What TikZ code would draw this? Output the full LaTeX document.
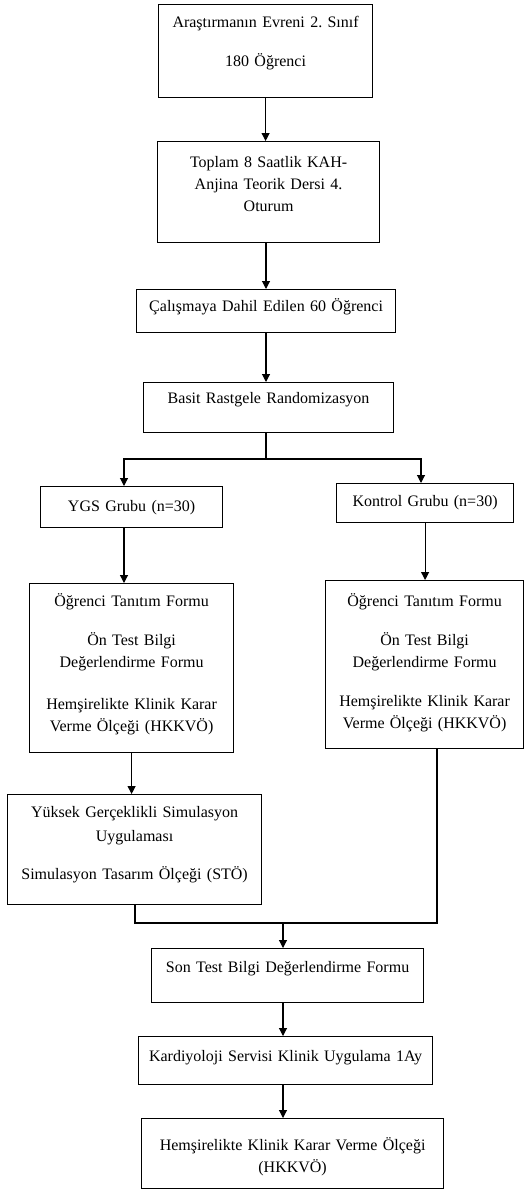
\documentclass[tikz,border=0pt]{standalone}
\usepackage{fontspec}
\setmainfont{Liberation Serif}
\usetikzlibrary{arrows.meta}
\frenchspacing

\begin{document}
\begin{tikzpicture}[x=1pt,y=-1pt,>={Triangle[length=8pt,width=8pt]},
    box/.style={draw,line width=1.2pt,anchor=north west,inner sep=0pt,align=center,
      font=\fontsize{16}{22}\selectfont},
    link/.style={line width=1.1pt}]
  \useasboundingbox (0,0) rectangle (526,1191);
  % boxes: placed by their top left corner; text height = first baseline,
  % text depth = rest of the box height
  \node[box,text width=214pt,text height=23pt,text depth=70pt] (evren) at (158,4)
    {Araştırmanın Evreni 2. Sınıf\\[17pt]180 Öğrenci};
  \node[box,text width=222pt,text height=26pt,text depth=75pt] (toplam) at (157,141)
    {Toplam 8 Saatlik KAH-\\Anjina Teorik Dersi 4.\\Oturum};
  \node[box,text width=259pt,text height=22pt,text depth=21pt] (dahil) at (136,289)
    {Çalışmaya Dahil Edilen 60 Öğrenci};
  \node[box,text width=250pt,text height=21pt,text depth=29pt] (random) at (143,382)
    {Basit Rastgele Randomizasyon};

  % two groups
  \node[box,text width=182pt,text height=25pt,text depth=16pt] (ygs) at (40,486)
    {YGS Grubu (n=30)};
  \node[box,text width=177pt,text height=23pt,text depth=16pt] (kontrol) at (336,483)
    {Kontrol Grubu (n=30)};
  \node[box,text width=204pt,text height=23pt,text depth=146pt] (formA) at (29,583)
    {Öğrenci Tanıtım Formu\\[17pt]Ön Test Bilgi\\Değerlendirme Formu\\[20pt]%
     Hemşirelikte Klinik Karar\\Verme Ölçeği (HKKVÖ)};
  \node[box,text width=198pt,text height=26pt,text depth=142pt] (formB) at (325,580)
    {Öğrenci Tanıtım Formu\\[17pt]Ön Test Bilgi\\Değerlendirme Formu\\[17pt]%
     Hemşirelikte Klinik Karar\\Verme Ölçeği (HKKVÖ)};
  \node[box,text width=254pt,text height=23pt,text depth=87pt] (sim) at (7,794)
    {Yüksek Gerçeklikli Simulasyon\\[2pt]Uygulaması\\[16pt]Simulasyon Tasarım Ölçeği (STÖ)};

  % after the groups meet
  \node[box,text width=272pt,text height=24pt,text depth=30pt] (son) at (151,948)
    {Son Test Bilgi Değerlendirme Formu};
  \node[box,text width=294pt,text height=25pt,text depth=23pt] (kardiyo) at (138,1036)
    {Kardiyoloji Servisi Klinik Uygulama 1Ay};
  \node[box,text width=302pt,text height=32pt,text depth=38pt] (hkkvo) at (141,1118)
    {Hemşirelikte Klinik Karar Verme Ölçeği\\(HKKVÖ)};

  \coordinate (split)  at (266,459);
  \coordinate (splitL) at (124,459);
  \coordinate (splitR) at (421,459);
  \coordinate (merge)  at (283,923);
  \coordinate (mergeL) at (135,923);
  \coordinate (mergeR) at (437,923);

  \draw[link,->] (evren) -- (evren |- toplam.north);
  \draw[link,->] (toplam.south -| split) -- (split |- dahil.north);
  \draw[link,->] (dahil.south -| split) -- (split |- random.north);
  \draw[link] (random.south -| split) -- (split);
  \draw[link,<->] (splitL |- ygs.north) -- (splitL) -- (splitR) -- (splitR |- kontrol.north);
  \draw[link,->] (ygs.south -| splitL) -- (splitL |- formA.north);
  \draw[link,->] (kontrol) -- (kontrol |- formB.north);
  \draw[link,->] (formA) -- (formA |- sim.north);

  % join of both arms
  \draw[link] (sim.south -| mergeL) -- (mergeL) -- (mergeR) -- (formB.south -| mergeR);
  \draw[link,->] (merge) -- (merge |- son.north);
  \draw[link,->] (son.south -| merge) -- (merge |- kardiyo.north);
  \draw[link,->] (kardiyo.south -| merge) -- (merge |- hkkvo.north);
\end{tikzpicture}
\end{document}
